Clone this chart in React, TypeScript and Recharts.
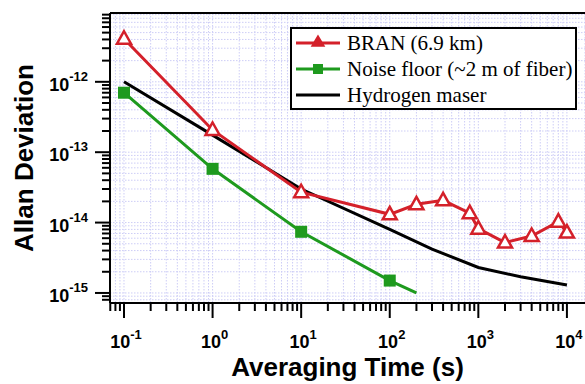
import React from 'react';
import { LineChart, Line, XAxis, YAxis, CartesianGrid, Legend, ReferenceLine, Label } from 'recharts';

// ---- data ----
const branX = [0.1, 1, 10, 100, 200, 400, 800, 1000, 2000, 4000, 8000, 10000];
const branY = [4.1e-12, 2.07e-13, 2.7e-14, 1.31e-14, 1.82e-14, 2.07e-14, 1.36e-14, 8.2e-15, 5.2e-15, 6.45e-15, 1.03e-14, 7.2e-15];

const noiseX = [0.1, 1, 10, 100, 200];
const noiseY = [7.0e-13, 5.8e-14, 7.4e-15, 1.5e-15, 1.0e-15];
const noiseMarked = [true, true, true, true, false];

const maserX = [0.1, 1, 10, 100, 300, 1000, 3000, 10000];
const maserY = [1.0e-12, 1.75e-13, 3.0e-14, 8.0e-15, 4.2e-15, 2.3e-15, 1.7e-15, 1.3e-15];

const X_DECADES = [0.01, 0.1, 1, 10, 100, 1000, 10000];
const Y_DECADES = [1e-16, 1e-15, 1e-14, 1e-13, 1e-12, 1e-11];
const X_DOMAIN = [0.0695, 16000];
const Y_DOMAIN = [7.2e-16, 9.5e-12];

const SERIES = [
  { key: 'bran', name: 'BRAN (6.9 km)', color: '#d4202a', marker: 'triangle' },
  { key: 'noise', name: 'Noise floor (~2 m of fiber)', color: '#1e9a1e', marker: 'square' },
  { key: 'maser', name: 'Hydrogen maser', color: '#000000', marker: 'none' },
];

const branData = branX.map((x, i) => ({ x, y: branY[i] }));
const noiseData = noiseX.map((x, i) => ({ x, y: noiseY[i], marked: noiseMarked[i] }));
const maserData = maserX.map((x, i) => ({ x, y: maserY[i] }));

function minorTicks(decades: number[], domain: number[]) {
  const out: number[] = [];
  decades.forEach((d) => {
    for (let m = 1; m <= 9; m++) {
      const v = parseFloat((d * m).toPrecision(6));
      if (v >= domain[0] && v <= domain[1]) out.push(v);
    }
  });
  return out;
}
const xTicks = minorTicks(X_DECADES, X_DOMAIN);
const yTicks = minorTicks(Y_DECADES, Y_DOMAIN);

const isDecade = (v: number) => Math.abs(Math.log10(v) - Math.round(Math.log10(v))) < 1e-6;
const expOf = (v: number) => Math.round(Math.log10(v));

const SANS = 'Liberation Sans, Arial, Helvetica, sans-serif';
const SERIF = 'Liberation Serif, Times New Roman, serif';

function XTick(props: any) {
  const { x, y, payload } = props;
  const v = payload.value;
  const major = isDecade(v);
  return (
    <g>
      <line x1={x} y1={y} x2={x} y2={y + (major ? 15 : 8)} stroke="#000" strokeWidth={2} />
      {major && (
        <text x={x + 2} y={y + 45} textAnchor="middle" fontFamily={SANS} fontWeight="bold" fontSize={18} fill="#000">
          <tspan>10</tspan>
          <tspan dy={-9} fontSize={13}>{String(expOf(v))}</tspan>
        </text>
      )}
    </g>
  );
}

function YTick(props: any) {
  const { x, y, payload } = props;
  const v = payload.value;
  const major = isDecade(v);
  return (
    <g>
      <line x1={x} y1={y} x2={x - (major ? 15 : 8)} y2={y} stroke="#000" strokeWidth={2} />
      {major && (
        <text x={x - 22} y={y + 9} textAnchor="end" fontFamily={SANS} fontWeight="bold" fontSize={18} fill="#000">
          <tspan>10</tspan>
          <tspan dy={-10} fontSize={13}>{String(expOf(v))}</tspan>
        </text>
      )}
    </g>
  );
}

function TriangleDot(props: any) {
  const { cx, cy, index } = props;
  if (cx == null || cy == null) return <g key={index} />;
  const d = `M${cx},${cy - 7.5} L${cx - 7},${cy + 5} L${cx + 7},${cy + 5} Z`;
  return <path key={index} d={d} fill="#fff" stroke={SERIES[0].color} strokeWidth={2.5} strokeLinejoin="miter" />;
}

function SquareDot(props: any) {
  const { cx, cy, index, payload } = props;
  if (cx == null || cy == null || !payload.marked) return <g key={index} />;
  return <rect key={index} x={cx - 6} y={cy - 6} width={12} height={12} fill={SERIES[1].color} />;
}

function LegendSymbol({ color, marker }: { color: string; marker: string }) {
  return (
    <svg width={44} height={26} style={{ display: 'block' }}>
      <line x1={0} y1={13} x2={44} y2={13} stroke={color} strokeWidth={3} />
      {marker === 'triangle' && <path d="M22,6 L16,16 L28,16 Z" fill={color} stroke={color} strokeWidth={1.5} />}
      {marker === 'square' && <rect x={17} y={8} width={10} height={10} fill={color} />}
    </svg>
  );
}

function renderLegend(props: any) {
  const payload = props.payload || [];
  const items = SERIES.map((s) => {
    const p = payload.find((e: any) => e.value === s.name);
    return { ...s, color: p ? p.color : s.color };
  });
  return (
    <div
      style={{
        boxSizing: 'border-box',
        width: 287,
        height: 83,
        border: '2px solid #000',
        background: '#fff',
        paddingTop: 1,
        paddingLeft: 4,
      }}
    >
      {items.map((it) => (
        <div key={it.key} style={{ display: 'flex', alignItems: 'center', height: 26 }}>
          <LegendSymbol color={it.color} marker={it.marker} />
          <span style={{ marginLeft: 7, fontFamily: SERIF, fontSize: 21, lineHeight: '26px', color: '#000', whiteSpace: 'nowrap' }}>
            {it.name}
          </span>
        </div>
      ))}
    </div>
  );
}

export default function App() {
  return (
    <div style={{ position: 'absolute', left: 0, top: 0, width: 585, height: 384, background: '#fff' }}>
      <LineChart width={585} height={384} margin={{ top: 13, right: 0, bottom: 0, left: 0 }}>
        <CartesianGrid stroke="#cdcdf6" strokeDasharray="1.5 1.5" strokeWidth={1} />
        <XAxis
          type="number"
          dataKey="x"
          scale="log"
          domain={X_DOMAIN}
          allowDataOverflow
          ticks={xTicks}
          interval={0}
          tick={<XTick />}
          tickLine={false}
          tickSize={0}
          tickMargin={0}
          axisLine={{ stroke: '#000', strokeWidth: 2 }}
          height={81}
        >
          <Label
            content={(p: any) => {
              const vb = p.viewBox || { x: 110, y: 303, width: 475 };
              return (
                <text x={vb.x + vb.width / 2} y={vb.y + 73} textAnchor="middle" fontFamily={SANS} fontWeight="bold" fontSize={26} fill="#000">
                  Averaging Time (s)
                </text>
              );
            }}
          />
        </XAxis>
        <YAxis
          type="number"
          dataKey="y"
          scale="log"
          domain={Y_DOMAIN}
          allowDataOverflow
          ticks={yTicks}
          interval={0}
          tick={<YTick />}
          tickLine={false}
          tickSize={0}
          tickMargin={0}
          axisLine={{ stroke: '#000', strokeWidth: 2 }}
          width={110}
        >
          <Label
            content={(p: any) => {
              const vb = p.viewBox || { x: 0, y: 13, height: 290 };
              const cy = vb.y + vb.height / 2;
              return (
                <text x={33} y={cy} transform={`rotate(-90, 33, ${cy})`} textAnchor="middle" fontFamily={SANS} fontWeight="bold" fontSize={26} fill="#000">
                  Allan Deviation
                </text>
              );
            }}
          />
        </YAxis>
        <ReferenceLine y={Y_DOMAIN[1]} stroke="#000" strokeWidth={2} />
        <Legend
          layout="horizontal"
          verticalAlign="middle"
          align="center"
          content={renderLegend}
          wrapperStyle={{ position: 'absolute', left: 290, top: 27, width: 287, height: 83 }}
        />
        <Line
          data={maserData}
          dataKey="y"
          name={SERIES[2].name}
          stroke={SERIES[2].color}
          strokeWidth={3}
          dot={false}
          isAnimationActive={false}
          type="linear"
        />
        <Line
          data={noiseData}
          dataKey="y"
          name={SERIES[1].name}
          stroke={SERIES[1].color}
          strokeWidth={3}
          dot={(p: any) => <SquareDot {...p} />}
          isAnimationActive={false}
          type="linear"
        />
        <Line
          data={branData}
          dataKey="y"
          name={SERIES[0].name}
          stroke={SERIES[0].color}
          strokeWidth={3}
          dot={(p: any) => <TriangleDot {...p} />}
          isAnimationActive={false}
          type="linear"
        />
      </LineChart>
    </div>
  );
}
